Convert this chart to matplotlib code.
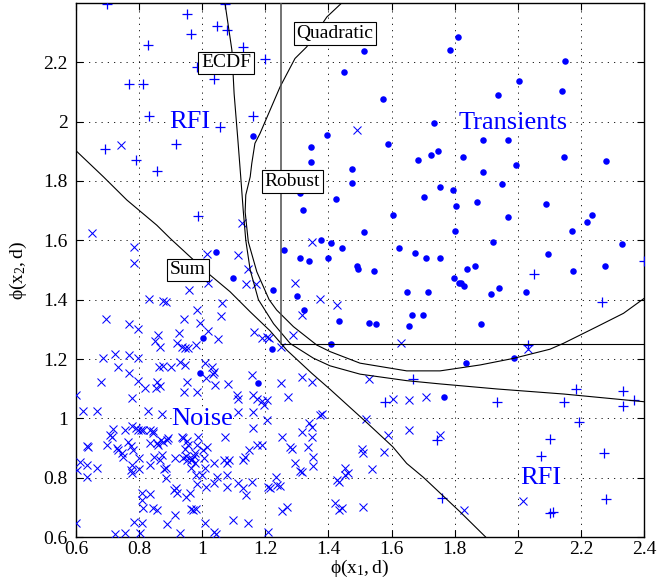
"""
Диаграмма рассеяния признаков phi(x1,d) / phi(x2,d) с границами решений
"""

import matplotlib
matplotlib.use("Agg")
import matplotlib.pyplot as plt
import numpy as np

# Шум (крестики)
noise_pts = [
    (0.743, 1.92), (1.49, 1.972), (0.65, 1.625), (0.784, 1.578), (0.784, 1.524), (1.014, 1.553),
    (1.125, 1.657), (1.114, 1.55), (1.146, 1.503), (1.138, 1.452), (1.17, 1.452), (1.019, 1.457),
    (0.958, 1.434), (0.832, 1.402), (0.877, 1.396), (0.884, 1.391), (1.064, 1.388), (0.983, 1.365),
    (1.059, 1.345), (0.943, 1.334), (0.993, 1.323), (0.695, 1.334), (0.769, 1.318), (0.798, 1.301),
    (1.017, 1.295), (0.927, 1.286), (1.049, 1.266), (1.164, 1.292), (1.189, 1.27), (1.205, 1.275),
    (0.861, 1.281), (0.85, 1.262), (0.866, 1.241), (0.919, 1.255), (0.935, 1.241), (0.946, 1.238),
    (0.956, 1.236), (0.98, 1.247), (0.724, 1.217), (0.685, 1.204), (0.769, 1.213), (0.798, 1.202),
    (1.349, 1.595), (1.294, 1.455), (1.373, 1.402), (1.315, 1.35), (1.428, 1.382), (1.289, 1.281),
    (1.213, 1.27), (1.249, 1.241), (1.63, 1.253),
    (0.734, 1.174), (0.769, 1.152), (0.796, 1.126), (0.679, 1.121), (0.777, 1.067), (0.6, 1.078),
    (0.623, 1.025), (0.668, 1.025), (0.829, 1.025), (0.819, 1.103), (0.858, 1.121), (0.854, 1.103),
    (0.866, 1.11), (0.877, 1.176), (0.864, 1.172), (0.901, 1.174), (0.93, 1.191), (0.946, 1.18),
    (0.953, 1.121), (0.943, 1.088), (0.983, 1.088), (1.009, 1.185), (1.03, 1.172), (1.037, 1.157),
    (1.033, 1.149), (1.012, 1.135), (1.041, 1.112), (1.081, 1.116), (0.872, 1.013), (1.109, 1.078),
    (1.114, 1.064), (1.162, 1.078), (1.157, 1.146), (1.173, 1.064), (1.189, 1.059), (1.205, 1.062),
    (1.197, 1.045), (1.205, 0.994), (1.16, 1.02), (1.16, 0.968), (1.114, 1.02), (1.072, 0.936),
    (1.136, 0.871), (1.13, 0.859), (1.148, 0.893), (1.173, 0.91), (1.189, 0.91), (1.114, 0.781),
    (1.13, 0.764), (1.157, 0.784), (1.139, 0.742), (1.208, 0.77), (1.099, 0.657), (1.144, 0.646),
    (1.21, 0.618), (1.037, 0.618), (1.044, 0.609), (1.009, 0.646), (0.983, 0.778), (1.011, 0.77),
    (1.0, 0.809), (1.009, 0.832), (0.98, 0.809), (1.038, 0.783), (1.046, 0.803), (1.078, 0.77),
    (1.078, 0.809), (1.078, 0.848), (1.069, 0.859), (1.085, 0.859), (1.038, 0.848), (1.007, 0.865),
    (1.004, 0.893), (1.014, 0.904), (0.983, 0.91), (0.988, 0.936), (0.977, 0.882), (0.969, 0.863),
    (0.935, 0.936), (0.94, 0.935), (0.953, 0.925), (0.956, 0.91), (0.946, 0.897), (0.948, 0.873),
    (0.938, 0.865), (0.914, 0.865), (0.951, 0.859), (0.964, 0.859), (0.975, 0.873), (0.977, 0.848),
    (0.964, 0.832), (0.917, 0.764), (0.921, 0.749), (0.911, 0.758), (0.948, 0.736), (0.961, 0.747),
    (0.964, 0.693), (0.972, 0.691), (0.98, 0.693), (0.914, 0.674), (0.93, 0.615), (0.887, 0.644),
    (0.879, 0.828), (0.884, 0.798), (0.875, 0.921), (0.858, 0.918), (0.868, 0.927), (0.887, 0.927),
    (0.893, 0.933), (0.861, 0.91), (0.843, 0.949), (0.845, 0.957), (0.835, 0.961), (0.813, 0.961),
    (0.805, 0.961), (0.798, 0.961), (0.789, 0.966), (0.778, 0.974), (0.755, 0.961), (0.718, 0.964),
    (0.713, 0.936), (0.708, 0.944), (0.697, 0.91), (0.729, 0.899), (0.734, 0.893), (0.745, 0.884),
    (0.75, 0.871), (0.766, 0.921), (0.774, 0.908), (0.782, 0.893), (0.8, 0.865), (0.777, 0.843),
    (0.774, 0.826), (0.777, 0.815), (0.8, 0.828), (0.835, 0.843), (0.835, 0.916), (0.848, 0.869),
    (0.872, 0.876), (0.884, 0.832), (0.866, 0.859), (0.613, 0.854), (0.602, 0.826), (0.634, 0.803),
    (0.636, 0.843), (0.639, 0.904), (0.634, 0.908), (0.666, 0.832), (0.808, 0.747), (0.808, 0.725),
    (0.835, 0.744), (0.811, 0.699), (0.843, 0.699), (0.858, 0.691), (0.784, 0.652), (0.808, 0.646),
    (0.803, 0.615), (0.755, 0.615), (0.724, 0.609), (0.6, 0.646),
    (1.315, 1.14), (1.349, 1.123), (1.249, 1.12), (1.273, 1.073), (1.373, 1.011), (1.379, 1.015),
    (1.337, 0.983), (1.349, 0.972), (1.315, 0.955), (1.349, 0.938), (1.254, 0.938), (1.278, 0.902),
    (1.284, 0.897), (1.334, 0.902), (1.352, 0.871), (1.352, 0.839), (1.294, 0.848), (1.315, 0.82),
    (1.31, 0.823), (1.233, 0.803), (1.215, 0.764), (1.236, 0.775), (1.247, 0.772), (1.252, 0.688),
    (1.27, 0.7),
    (2.031, 1.233), (1.529, 1.131), (1.603, 1.065), (1.656, 1.062), (1.709, 1.073), (1.52, 0.998),
    (1.59, 0.944), (1.656, 0.961), (1.754, 0.944), (1.506, 0.896), (1.508, 0.882), (1.577, 0.886),
    (1.539, 0.828), (1.453, 0.832), (1.463, 0.815), (1.453, 0.809), (1.426, 0.792), (1.432, 0.786),
    (1.421, 0.716), (1.432, 0.691), (1.442, 0.697), (1.511, 0.7), (1.831, 0.691), (2.018, 0.722),
]

# Помехи RFI (плюсы)
rfi_pts = [
    (0.697, 2.396), (0.951, 2.363), (1.046, 2.323), (0.964, 2.297), (1.072, 2.396), (1.078, 2.309),
    (0.829, 2.26), (1.128, 2.252), (1.199, 2.211), (0.769, 2.126), (0.813, 2.126), (1.037, 2.143),
    (0.984, 2.184), (0.832, 2.02), (1.16, 2.02), (1.056, 1.983), (0.692, 1.908), (0.917, 1.924),
    (0.789, 1.87), (0.858, 1.833), (0.988, 1.683),
    (2.05, 1.487), (2.266, 1.391), (2.4, 1.53), (2.031, 1.247), (1.58, 1.056), (1.669, 1.131),
    (1.933, 1.056), (2.185, 1.099), (2.145, 1.056), (2.332, 1.093), (2.332, 1.041), (2.367, 1.062),
    (2.195, 0.987), (2.102, 0.929), (2.074, 0.873), (2.274, 0.882), (2.28, 0.727), (2.102, 0.682),
    (2.111, 0.685), (1.76, 0.73), (1.743, 0.927),
]

# Транзиенты (точки)
trans_pts = [
    (1.162, 1.951), (1.514, 2.238), (1.809, 2.286), (1.786, 2.243), (1.45, 2.168), (1.574, 2.078),
    (1.733, 1.994), (1.395, 1.956), (1.588, 1.924), (1.345, 1.914), (1.345, 1.865), (1.685, 1.87),
    (1.724, 1.887), (1.748, 1.902), (1.475, 1.839), (1.474, 1.794), (2.15, 2.206), (2.005, 2.137),
    (1.936, 2.09), (2.14, 2.105), (1.826, 1.882), (1.889, 1.829), (1.995, 1.855), (2.145, 1.882),
    (2.279, 1.866), (1.949, 1.79), (1.89, 1.938), (1.97, 1.938), (1.044, 1.562), (1.099, 1.472),
    (1.003, 1.27), (1.424, 1.739), (1.319, 1.702), (1.31, 1.758), (1.606, 1.685), (1.514, 1.627),
    (1.376, 1.6), (1.408, 1.59), (1.444, 1.573), (1.259, 1.567), (1.31, 1.541), (1.339, 1.53),
    (1.4, 1.541), (1.49, 1.514), (1.495, 1.503), (1.545, 1.498), (1.625, 1.573), (1.675, 1.556),
    (1.709, 1.541), (1.754, 1.541), (1.704, 1.747), (1.754, 1.781), (1.794, 1.77), (1.805, 1.716),
    (1.801, 1.631), (1.799, 1.472), (1.815, 1.455), (1.648, 1.425), (1.715, 1.425), (1.223, 1.434),
    (1.3, 1.413), (1.324, 1.365), (1.435, 1.329), (1.529, 1.323), (1.55, 1.318), (1.664, 1.35),
    (1.699, 1.35), (1.656, 1.312), (1.408, 1.249), (1.22, 1.234), (0.993, 1.152), (1.178, 1.12),
    (1.87, 1.728), (1.97, 1.679), (2.09, 1.723), (1.92, 1.593), (2.171, 1.631), (2.219, 1.663),
    (2.235, 1.685), (2.33, 1.589), (2.095, 1.553), (2.275, 1.514), (1.84, 1.503), (1.865, 1.514),
    (2.174, 1.498), (1.82, 1.455), (1.831, 1.446), (1.916, 1.419), (1.941, 1.44), (2.025, 1.425),
    (1.884, 1.318), (1.989, 1.202), (1.835, 1.185), (1.765, 1.073),
]

# Границы решений
sum_x = [0.6, 0.687, 0.761, 0.856, 0.898, 0.956, 1.025, 1.088, 1.152, 1.215, 1.268, 1.347,
         1.405, 1.522, 1.604, 1.648, 1.701, 1.817, 1.902]
sum_y = [1.902, 1.814, 1.736, 1.651, 1.607, 1.55, 1.483, 1.427, 1.359, 1.295, 1.23, 1.152,
         1.098, 0.985, 0.904, 0.848, 0.801, 0.685, 0.596]

ecdf_x = [1.072, 1.094, 1.101, 1.113, 1.122, 1.13, 1.138, 1.152, 1.178, 1.226, 1.279, 1.352,
          1.405, 1.5, 1.648, 1.754, 1.934, 2.145, 2.4]
ecdf_y = [2.4, 2.241, 2.095, 1.938, 1.814, 1.7, 1.6, 1.5, 1.4, 1.319, 1.252, 1.203,
          1.177, 1.149, 1.127, 1.116, 1.099, 1.082, 1.056]

quad_x = [1.442, 1.395, 1.331, 1.294, 1.247, 1.215, 1.183, 1.167, 1.157, 1.152, 1.138, 1.136,
          1.146, 1.173, 1.212, 1.236, 1.289, 1.363, 1.405, 1.5, 1.648, 1.754, 1.881, 1.986,
          2.102, 2.145, 2.251, 2.335, 2.4]
quad_y = [2.4, 2.353, 2.252, 2.213, 2.118, 2.039, 1.96, 1.927, 1.859, 1.814, 1.753, 1.696,
          1.595, 1.494, 1.4, 1.365, 1.309, 1.247, 1.225, 1.186, 1.16, 1.16, 1.18, 1.202,
          1.233, 1.253, 1.309, 1.354, 1.404]

robust_x0 = 1.25
robust_y0 = 1.25

ticks = [0.6, 0.8, 1.0, 1.2, 1.4, 1.6, 1.8, 2.0, 2.2, 2.4]
tick_labels = ["0.6", "0.8", "1", "1.2", "1.4", "1.6", "1.8", "2", "2.2", "2.4"]

# Подписи границ: (текст, x, y)
boundary_labels = [("Quadratic", 1.421, 2.297), ("ECDF", 1.076, 2.198),
                   ("Robust", 1.286, 1.797), ("Sum", 0.954, 1.5)]
# Подписи классов
class_labels = [("RFI", 0.961, 2.0), ("Transients", 1.986, 1.997),
                ("Noise", 1.001, 0.998), ("RFI", 2.073, 0.8)]


def draw():
    plt.rcParams['font.family'] = ['Liberation Serif', 'DejaVu Serif']
    plt.rcParams['mathtext.fontset'] = 'custom'
    plt.rcParams['mathtext.rm'] = 'Liberation Serif'
    plt.rcParams['mathtext.it'] = 'Liberation Serif'

    fig = plt.figure(figsize=(6.57, 5.86), dpi=100)
    ax = fig.add_axes([0.1157, 0.0836, 0.8645, 0.9113])

    blue = (0, 0, 1)
    nx, ny = np.array(noise_pts).T
    rx, ry = np.array(rfi_pts).T
    tx, ty = np.array(trans_pts).T

    # маркеры классов
    ax.plot(nx, ny, 'x', color=blue, ms=5.2, mew=0.75, zorder=3)
    ax.plot(rx, ry, '+', color=blue, ms=7, mew=0.9, zorder=3)
    ax.plot(tx, ty, 'o', color=blue, ms=4.7, mew=0, zorder=3)

    # границы
    lw = 0.8
    ax.plot(sum_x, sum_y, color='k', lw=lw, zorder=4)
    ax.plot(ecdf_x, ecdf_y, color='k', lw=lw, zorder=4)
    ax.plot(quad_x, quad_y, color='k', lw=lw, zorder=4)
    ax.plot([robust_x0, robust_x0], [robust_y0, 2.4], color='0.3', lw=1.1, zorder=4)
    ax.plot([robust_x0, 2.4], [robust_y0, robust_y0], color='k', lw=lw, zorder=4)

    for text, x, y in boundary_labels:
        ax.text(x, y, text, fontsize=14, ha='center', va='center', zorder=6,
                bbox=dict(boxstyle='square,pad=0.15', fc='white', ec='k', lw=0.8))

    for text, x, y in class_labels:
        ax.text(x, y, text, fontsize=19, color=blue, ha='center', va='center', zorder=5,
                bbox=dict(boxstyle='square,pad=0.0', fc='white', ec='none'))

    ax.set_xlim(0.6, 2.4)
    ax.set_ylim(0.6, 2.4)
    ax.set_xticks(ticks)
    ax.set_xticklabels(tick_labels)
    ax.set_yticks(ticks[:-1])
    ax.set_yticklabels(tick_labels[:-1])
    ax.tick_params(direction='in', length=5, width=0.8, top=True, right=True, labelsize=14)
    ax.tick_params(axis='x', pad=3)
    ax.tick_params(axis='y', pad=6)
    ax.grid(True, color='k', lw=0.6, linestyle=(0, (1.5, 6)))
    for s in ax.spines.values():
        s.set_linewidth(1.0)

    ax.set_xlabel(r'$\phi(x_1,d)$', fontsize=14, labelpad=0)
    ax.set_ylabel(r'$\phi(x_2,d)$', fontsize=14, labelpad=10)

    fig.savefig('out.png', dpi=100)


if __name__ == "__main__":
    draw()
